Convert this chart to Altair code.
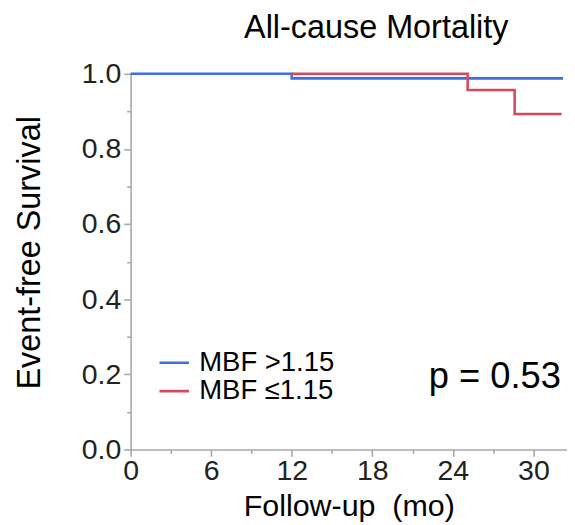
import altair as alt
import pandas as pd

# Kaplan-Meier step points
blue_time = [0, 12, 32.2]
blue_surv = [1.0, 0.988, 0.988]
red_time = [12, 25.1, 28.6, 32.1]
red_surv = [1.0, 0.957, 0.893, 0.893]
groups = ["MBF >1.15", "MBF \u22641.15"]
colors = ["#3f6fe0", "#d9475c"]
x_ticks = [0, 3, 6, 9, 12, 15, 18, 21, 24, 27, 30]
y_ticks = [0.0, 0.1, 0.2, 0.3, 0.4, 0.5, 0.6, 0.7, 0.8, 0.9, 1.0]
p_text = ["p = 0.53"]

df = pd.DataFrame(
    {"time": blue_time + red_time,
     "surv": blue_surv + red_surv,
     "group": [groups[0]] * len(blue_time) + [groups[1]] * len(red_time)}
)

FONT = "Liberation Sans"
AX = "#a8a8a8"

lines = alt.Chart(df).mark_line(interpolate="step-after", strokeWidth=2.6).encode(
    x=alt.X("time:Q",
            scale=alt.Scale(domain=[0, 32.5], nice=False, zero=False),
            axis=alt.Axis(
                values=x_ticks,
                title="Follow-up\u00a0\u00a0(mo)",
                labelExpr="datum.value % 6 === 0 ? datum.label : ''",
                tickSize={"condition": {"test": "datum.value % 6 === 0", "value": 7}, "value": 4},
                labelFontSize=29, labelFont=FONT, labelColor="#222222", labelPadding=1,
                titleFontSize=31, titleFont=FONT, titleFontWeight="normal", titleColor="#000000",
                titleY=43,
                domainColor=AX, tickColor=AX, domainWidth=1.6, tickWidth=1.6,
                grid=False, labelFlush=False, labelOverlap=False,
            )),
    y=alt.Y("surv:Q",
            scale=alt.Scale(domain=[0, 1], nice=False),
            axis=alt.Axis(
                values=y_ticks,
                title="Event-free Survival",
                format=".1f",
                labelExpr="round(datum.value*10) % 2 === 0 ? datum.label : ''",
                tickSize={"condition": {"test": "round(datum.value*10) % 2 === 0", "value": 7}, "value": 4},
                labelFontSize=29, labelFont=FONT, labelColor="#222222", labelPadding=3,
                titleFontSize=33, titleFont=FONT, titleFontWeight="normal", titleColor="#000000",
                titleX=-86, titleY=182,
                domainColor=AX, tickColor=AX, domainWidth=1.6, tickWidth=1.6,
                grid=False, labelFlush=False, labelOverlap=False,
            )),
    color=alt.Color("group:N",
                    scale=alt.Scale(domain=groups, range=colors),
                    legend=alt.Legend(
                        title=None, orient="none", legendX=28, legendY=281,
                        symbolType="stroke", symbolSize=900, symbolStrokeWidth=2.6,
                        labelFontSize=28, labelFont=FONT, labelColor="#000000",
                        labelOffset=9, padding=0, clipHeight=27, rowPadding=0,
                        labelLimit=300,
                    )),
)

ptxt = alt.Chart(pd.DataFrame({"t": p_text})).mark_text(
    align="left", baseline="alphabetic", fontSize=37, font=FONT, color="#000000"
).encode(x=alt.value(304), y=alt.value(320), text="t:N")

chart = alt.layer(lines, ptxt).properties(
    width=445, height=383,
    title=alt.TitleParams("All-cause Mortality", fontSize=33, font=FONT,
                          fontWeight="normal", color="#000000", anchor="middle", dx=28, offset=16),
    autosize=alt.AutoSizeParams(type="none"),
    padding={"left": 125, "top": 62, "right": 0, "bottom": 78},
).configure_view(stroke=None)

chart.save("out.html", embed_options={"renderer": "svg", "actions": False})
